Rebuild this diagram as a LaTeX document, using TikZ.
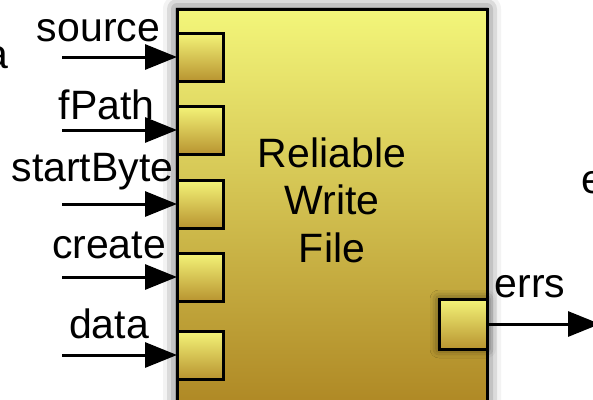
\documentclass[tikz,border=0pt]{standalone}
\usepackage{fontspec}
\setmainfont{Liberation Sans}
\usetikzlibrary{arrows.meta,shadows.blur}

\definecolor{boxtop}{RGB}{243,246,122}
\definecolor{boxbottom}{RGB}{167,124,27}
\definecolor{porttop}{RGB}{244,244,120}
\definecolor{portbottom}{RGB}{184,148,48}

\begin{document}
\begin{tikzpicture}[x=1pt, y=-1pt,
        vibox/.style={draw, line width=3pt, top color=boxtop, bottom color=boxbottom, inner sep=0pt, outer sep=0pt},
        port/.style={draw, line width=3pt, top color=porttop, bottom color=portbottom, minimum width=46pt, minimum height=48pt, inner sep=0pt, outer sep=0pt},
        wire/.style={line width=3pt, -{Triangle[length=32pt,width=25pt]}},
        lbl/.style={anchor=base, inner sep=0pt, font=\fontsize{41}{47}\selectfont}]
        \useasboundingbox (0, 0) rectangle (593, 399);
        \clip (0, 0) rectangle (593, 399);

        % the VI block
        \node[vibox, minimum width=310pt, minimum height=440pt, anchor=north west,
            blur shadow={shadow xshift=0pt, shadow yshift=0pt, shadow blur radius=14pt, shadow opacity=75}] (rwf) at (177, 9) {};
        \node[lbl] (titleA) at (332, 167) {Reliable};
        \node[lbl] (titleB) at (332, 214.5) {Write};
        \node[lbl] (titleC) at (332, 262) {File};

        % input terminals
        \node[port, anchor=west] (pSource) at (177, 57) {};
        \node[port, anchor=west] (pPath) at (177, 130) {};
        \node[port, anchor=west] (pStart) at (177, 204) {};
        \node[port, anchor=west] (pCreate) at (177, 277) {};
        \node[port, anchor=west] (pData) at (177, 355) {};

        % output terminal
        \node[port, minimum width=48pt, minimum height=50pt, anchor=east,
            blur shadow={shadow xshift=0pt, shadow yshift=0pt, shadow blur radius=9pt, shadow opacity=60}] (pErrs) at (487, 324) {};

        \coordinate (inSource) at (62, 57);
        \coordinate (inPath) at (62, 130);
        \coordinate (inStart) at (62, 204);
        \coordinate (inCreate) at (62, 277);
        \coordinate (inData) at (62, 355);
        \coordinate (outErrs) at (600, 324);

        \draw[wire] (inSource) -- (pSource.west);
        \draw[wire] (inPath) -- (pPath.west);
        \draw[wire] (inStart) -- (pStart.west);
        \draw[wire] (inCreate) -- (pCreate.west);
        \draw[wire] (inData) -- (pData.west);
        \draw[wire] (pErrs.east) -- (outErrs);

        % terminal labels
        \node[lbl] (lSource) at (98.5, 41) {source};
        \node[lbl] (lPath) at (106.5, 119) {fPath};
        \node[lbl] (lStart) at (92.5, 181) {startByte};
        \node[lbl] (lCreate) at (109, 258) {create};
        \node[lbl] (lData) at (109, 338) {data};
        \node[lbl] (lErrs) at (530, 297) {errs};

        % cut off text at the edges
        \node[lbl, anchor=base east] (cutA) at (9, 68) {a};
        \node[lbl, anchor=base west] (cutE) at (581, 193) {e};
    \end{tikzpicture}
\end{document}
